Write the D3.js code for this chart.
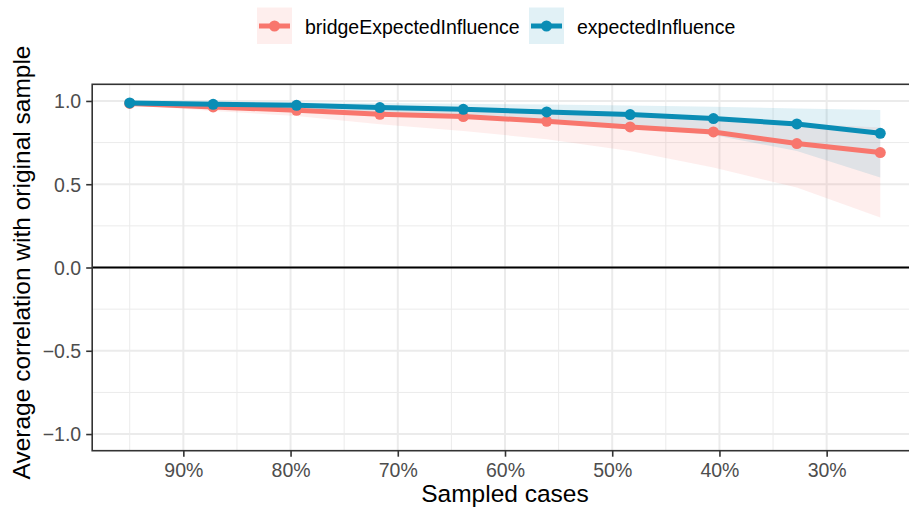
<!DOCTYPE html>
<html><head><meta charset="utf-8">
<script src="https://cdn.jsdelivr.net/npm/d3@7"></script>
<style>body{margin:0;background:#fff}svg{display:block;font-family:"Liberation Sans",Arial,sans-serif}</style>
</head><body><svg id="c" width="909" height="511"></svg>
<script>
const sampled = [0.95, 0.8722, 0.7944, 0.7167, 0.6389, 0.5611, 0.4833, 0.4056, 0.3278, 0.25];
const seriesNames = ["bridgeExpectedInfluence", "expectedInfluence"];
const bridgeMean = [0.985, 0.964, 0.944, 0.920, 0.906, 0.878, 0.844, 0.814, 0.744, 0.690];
const bridgeLower = [0.975, 0.940, 0.910, 0.860, 0.820, 0.770, 0.700, 0.600, 0.480, 0.300];
const bridgeUpper = [0.995, 0.985, 0.975, 0.962, 0.952, 0.937, 0.915, 0.895, 0.865, 0.840];
const eiMean = [0.988, 0.980, 0.974, 0.960, 0.950, 0.934, 0.918, 0.894, 0.862, 0.806];
const eiLower = [0.978, 0.962, 0.945, 0.925, 0.905, 0.885, 0.845, 0.795, 0.700, 0.540];
const eiUpper = [0.998, 0.996, 0.992, 0.988, 0.983, 0.978, 0.972, 0.965, 0.955, 0.945];
const xTicks = [0.9, 0.8, 0.7, 0.6, 0.5, 0.4, 0.3];
const xMinor = [0.95, 0.85, 0.75, 0.65, 0.55, 0.45, 0.35];
const yTicks = [1.0, 0.5, 0.0, -0.5, -1.0];
const yMinor = [0.75, 0.25, -0.25, -0.75];
const colors = ["#F8766D", "#0A8DB5"];

const svg = d3.select("#c");
const L = 92.2, R = 917.8, T = 84.3, B = 450.7;
const x = d3.scaleLinear().domain([0.985, 0.215]).range([L, R]);
const y = d3.scaleLinear().domain([-1.1, 1.1]).range([B, T]);

const g = svg.append("g");
// grid
g.selectAll(".ym").data(yMinor).join("line").attr("x1", L).attr("x2", R)
  .attr("y1", d => y(d)).attr("y2", d => y(d)).attr("stroke", "#EBEBEB").attr("stroke-width", 1);
g.selectAll(".xm").data(xMinor).join("line").attr("y1", T).attr("y2", B)
  .attr("x1", d => x(d)).attr("x2", d => x(d)).attr("stroke", "#EBEBEB").attr("stroke-width", 1);
g.selectAll(".yM").data(yTicks).join("line").attr("x1", L).attr("x2", R)
  .attr("y1", d => y(d)).attr("y2", d => y(d)).attr("stroke", "#EBEBEB").attr("stroke-width", 2);
g.selectAll(".xM").data(xTicks).join("line").attr("y1", T).attr("y2", B)
  .attr("x1", d => x(d)).attr("x2", d => x(d)).attr("stroke", "#EBEBEB").attr("stroke-width", 2);

// zero line
g.append("line").attr("x1", L).attr("x2", R).attr("y1", y(0)).attr("y2", y(0))
  .attr("stroke", "#000").attr("stroke-width", 2);

const series = [
  {name: seriesNames[0], mean: bridgeMean, lo: bridgeLower, hi: bridgeUpper, color: colors[0]},
  {name: seriesNames[1], mean: eiMean, lo: eiLower, hi: eiUpper, color: colors[1]}
];
const area = d3.area().x(d => x(d.s)).y0(d => y(d.lo)).y1(d => y(d.hi));
const line = d3.line().x(d => x(d.s)).y(d => y(d.m));
series.forEach(s => {
  const pts = sampled.map((v, i) => ({s: v, m: s.mean[i], lo: s.lo[i], hi: s.hi[i]}));
  g.append("path").datum(pts).attr("d", area).attr("fill", s.color).attr("fill-opacity", 0.12);
});
series.forEach(s => {
  const pts = sampled.map((v, i) => ({s: v, m: s.mean[i]}));
  g.append("path").datum(pts).attr("d", line).attr("fill", "none").attr("stroke", s.color).attr("stroke-width", 5);
  g.selectAll(null).data(pts).join("circle").attr("cx", d => x(d.s)).attr("cy", d => y(d.m))
    .attr("r", 5.5).attr("fill", s.color);
});

// panel border
g.append("rect").attr("x", L).attr("y", T).attr("width", R - L).attr("height", B - T)
  .attr("fill", "none").attr("stroke", "#333333").attr("stroke-width", 1.6);

// axes
const xa = svg.append("g").attr("transform", `translate(0,${B})`)
  .call(d3.axisBottom(x).tickValues(xTicks).tickFormat(d => Math.round(d * 100) + "%").tickSize(6).tickPadding(6));
const ya = svg.append("g").attr("transform", `translate(${L},0)`)
  .call(d3.axisLeft(y).tickValues(yTicks).tickFormat(d => d3.format(".1f")(d).replace("-", "\u2212")).tickSize(6).tickPadding(5));
[xa, ya].forEach(a => {
  a.select(".domain").remove();
  a.selectAll(".tick line").attr("stroke", "#333333").attr("stroke-width", 1.6);
  a.selectAll(".tick text").attr("fill", "#4D4D4D").style("font-size", "19.5px")
    .style("font-family", '"Liberation Sans",Arial,sans-serif');
});
ya.selectAll(".tick text").attr("dy", "0.35em");

// titles
svg.append("text").attr("x", (L + R) / 2).attr("y", 502).attr("text-anchor", "middle")
  .style("font-size", "24.5px").attr("fill", "#000").text("Sampled cases");
svg.append("text").attr("transform", `translate(30,${(T + B) / 2 - 5}) rotate(-90)`).attr("text-anchor", "middle")
  .style("font-size", "24.5px").attr("fill", "#000").text("Average correlation with original sample");

// legend
const lg = svg.append("g");
const keyX = [257, 529];
series.forEach((s, i) => {
  const kx = keyX[i];
  lg.append("rect").attr("x", kx).attr("y", 7.5).attr("width", 35).attr("height", 36.5)
    .attr("fill", s.color).attr("fill-opacity", 0.12);
  lg.append("line").attr("x1", kx + 2).attr("x2", kx + 33).attr("y1", 26).attr("y2", 26)
    .attr("stroke", s.color).attr("stroke-width", 5);
  lg.append("circle").attr("cx", kx + 17.5).attr("cy", 26).attr("r", 5.5).attr("fill", s.color);
  lg.append("text").attr("x", kx + 48).attr("y", 33.5).style("font-size", "19.5px").attr("fill", "#000").text(s.name);
});
</script></body></html>
